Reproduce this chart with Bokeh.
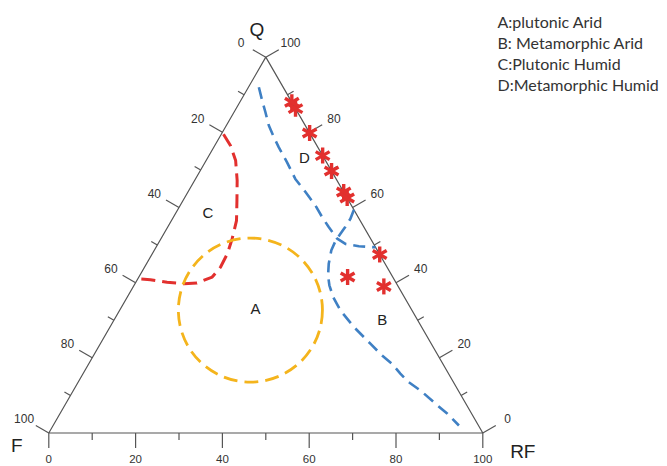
import numpy as np
from bokeh.plotting import figure
from bokeh.models import Range1d
from bokeh.core.properties import value
from bokeh.embed import file_html
from bokeh.resources import INLINE

# ---------------- data (ternary percentages: Q, F, RF) ----------------
tick_values = [0, 10, 20, 30, 40, 50, 60, 70, 80, 90, 100]
label_values = [0, 20, 40, 60, 80, 100]

star_q = [88.0, 86.3, 79.8, 73.8, 69.7, 64.1, 62.5, 47.5, 41.5, 39.0]
star_f = [0.0, 0.0, 0.0, 0.0, 0.0, 0.0, 0.0, 0.0, 10.4, 3.3]
star_rf = [12.0, 13.7, 20.2, 26.2, 30.3, 35.9, 37.5, 52.5, 48.1, 57.7]

# C boundary (red)
red_q = [79.5, 76.5, 72.5, 67.2, 61.9, 56.5, 51.7, 47.7, 44.1, 41.5, 39.9, 39.7, 40.1, 40.8, 41.0]
red_f = [20.0, 19.9, 20.7, 23.0, 25.7, 28.5, 31.9, 35.0, 38.4, 41.6, 45.9, 49.0, 52.7, 56.2, 59.0]
red_rf = [0.5, 3.6, 6.8, 9.8, 12.4, 15.0, 16.4, 17.3, 17.5, 16.9, 14.2, 11.3, 7.2, 3.0, 0.0]

# D boundary (blue)
d_q = [92.0, 88.5, 85.4, 81.8, 78.7, 76.0, 72.0, 67.6, 64.1, 60.5, 57.4, 54.8, 51.7, 50.3, 49.7, 49.4]
d_f = [5.6, 6.6, 7.4, 8.4, 8.8, 9.0, 9.1, 9.4, 8.8, 8.3, 8.3, 8.1, 7.7, 6.5, 3.7, 0.0]
d_rf = [2.4, 4.9, 7.2, 9.8, 12.5, 15.0, 18.9, 23.0, 27.1, 31.2, 34.3, 37.1, 40.6, 43.2, 46.6, 50.6]

# B boundary (blue)
b_q = [59.4, 57.0, 54.8, 53.0, 51.2, 48.6, 45.0, 41.9, 39.3, 36.1, 32.6, 28.2, 23.7, 20.6, 18.4, 15.8, 13.5, 11.3, 7.8, 5.1, 2.0]
b_f = [0.0, 2.0, 4.3, 6.3, 8.3, 10.6, 13.0, 14.7, 15.7, 16.4, 16.5, 15.6, 14.0, 12.9, 11.7, 11.1, 10.3, 8.7, 7.0, 5.6, 4.5]
b_rf = [40.6, 41.0, 40.9, 40.7, 40.5, 40.8, 42.0, 43.4, 45.0, 47.5, 50.9, 56.2, 62.3, 66.5, 69.9, 73.1, 76.2, 80.0, 85.2, 89.3, 93.5]

# A region (yellow circle): centre and radius in percent units
a_q, a_f, a_rf, a_radius = 32.7, 37.2, 30.1, 16.6

region_names = ["A", "B", "C", "D"]
region_q = [33.0, 30.1, 58.7, 73.2]
region_f = [35.9, 8.1, 34.0, 4.5]
region_rf = [31.1, 61.8, 7.3, 22.3]

legend_lines = ["A:plutonic Arid", "B: Metamorphic Arid", "C:Plutonic Humid", "D:Metamorphic Humid"]
vertex_names = ["Q", "F", "RF"]

# ---------------- helpers ----------------
S3 = np.sqrt(3) / 2


def tern(q, f, rf):
    q = np.asarray(q, float)
    rf = np.asarray(rf, float)
    return rf + q / 2, q * S3


PX = 4.34  # pixels per percent unit
p = figure(width=667, height=466, output_backend="svg", toolbar_location=None,
           x_range=Range1d(-48.3 / PX, (667 - 48.3) / PX),
           y_range=Range1d(-(466 - 432.5) / PX, 432.5 / PX),
           x_axis_type=None, y_axis_type=None, min_border=0,
           outline_line_color=None, background_fill_color="white",
           border_fill_color="white")
p.grid.visible = False

axis_col = "#555555"
tv = np.array(tick_values, float)
major = (tv % 20 == 0)
tlen = np.where(major, 15, 7) / PX

# triangle sides
tx, ty = tern([0, 0, 100, 0], [100, 0, 0, 100], [0, 100, 0, 0])
p.line(tx, ty, line_color=axis_col, line_width=1.2)

# bottom axis (RF %): ticks downward
bx, by = tern(np.zeros_like(tv), 100 - tv, tv)
p.segment(bx, by, bx, by - tlen, line_color=axis_col, line_width=1.2)
# left axis (F %): point with Q = 100 - F, RF = 0
lx, ly = tern(100 - tv, tv, np.zeros_like(tv))
p.segment(lx, ly, lx - 0.866 * tlen, ly + 0.5 * tlen, line_color=axis_col, line_width=1.2)
# right axis (Q %): point with Q, RF = 100 - Q
rx, ry = tern(tv, np.zeros_like(tv), 100 - tv)
p.segment(rx, ry, rx + 0.866 * tlen, ry + 0.5 * tlen, line_color=axis_col, line_width=1.2)

lv = np.array(label_values, float)
labs = [str(int(v)) for v in label_values]
off = 28.5 / PX
tick_font = value("Liberation Sans")
bx2, by2 = tern(np.zeros_like(lv), 100 - lv, lv)
p.text(bx2, by2, text=labs, y_offset=26, text_align="center", text_baseline="middle",
       text_font=tick_font, text_font_size="11.5px", text_color="#333333")
lx2, ly2 = tern(100 - lv, lv, np.zeros_like(lv))
p.text(lx2 - 0.866 * off, ly2 + 0.5 * off, text=labs, text_align="center", text_baseline="middle",
       text_font=tick_font, text_font_size="12px", text_color="#333333")
rx2, ry2 = tern(lv, np.zeros_like(lv), 100 - lv)
p.text(rx2 + 0.866 * off, ry2 + 0.5 * off, text=labs, text_align="center", text_baseline="middle",
       text_font=tick_font, text_font_size="12px", text_color="#333333")

# vertex labels
vx, vy = tern([100, 0, 0], [0, 100, 0], [0, 0, 100])
p.text(vx, vy, text=vertex_names, x_offset=[-9, -32, 40], y_offset=[-28, 12, 18],
       text_align="center", text_baseline="middle",
       text_font=tick_font, text_font_size="19px", text_color="#222222")

# boundaries
red = "#e2302e"
blue = "#3f80c4"
yellow = "#f4b41c"
x, y = tern(red_q, red_f, red_rf)
p.line(x, y, line_color=red, line_width=3, line_dash="14 7")
x, y = tern(d_q, d_f, d_rf)
p.line(x, y, line_color=blue, line_width=2.6, line_dash="12 7")
x, y = tern(b_q, b_f, b_rf)
p.line(x, y, line_color=blue, line_width=2.6, line_dash="12 7")
cx, cy = tern([a_q], [a_f], [a_rf])
p.circle(cx, cy, radius=a_radius, fill_color=None, line_color=yellow, line_width=2.8,
         line_dash="14 7")

# region labels
x, y = tern(region_q, region_f, region_rf)
p.text(x, y, text=region_names, text_align="center", text_baseline="middle",
       text_font=tick_font, text_font_size="15px", text_color="#222222")

# data points (six-arm asterisks)
sx, sy = tern(star_q, star_f, star_rf)
for ang in (np.pi / 2, np.pi / 6, -np.pi / 6):
    p.scatter(sx, sy, marker="dash", size=16, angle=ang, line_color=red, line_width=3.4)

# legend text
lg_y = [20.5, 41.5, 62.5, 84.0]
p.text([497 / PX - 48.3 / PX] * 4, [(432.5 - v) / PX for v in lg_y], text=legend_lines,
       text_align="left", text_baseline="middle",
       text_font=value("Lato"), text_font_size="16px", text_color="#333333")

open("out.html", "w").write(file_html(p, INLINE))
